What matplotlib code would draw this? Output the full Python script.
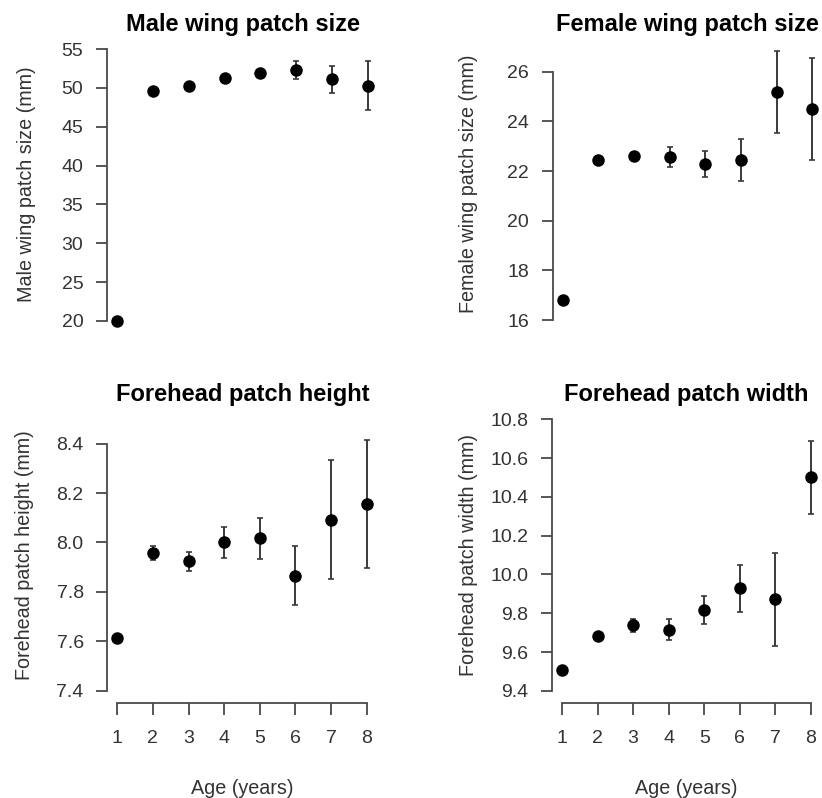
import numpy as np
import matplotlib.pyplot as plt

plt.rcParams["font.family"] = ["Liberation Sans", "DejaVu Sans"]

age = [1, 2, 3, 4, 5, 6, 7, 8]

male_wing = [20.0, 49.6, 50.2, 51.3, 51.9, 52.3, 51.1, 50.3]
male_wing_se = [0.2, 0.3, 0.3, 0.3, 0.4, 1.1, 1.7, 3.1]

female_wing = [16.8, 22.45, 22.62, 22.57, 22.28, 22.46, 25.2, 24.5]
female_wing_se = [0.05, 0.1, 0.15, 0.41, 0.52, 0.85, 1.65, 2.07]

fh_height = [7.613, 7.957, 7.923, 8.000, 8.016, 7.866, 8.092, 8.156]
fh_height_se = [0.01, 0.027, 0.039, 0.062, 0.084, 0.118, 0.24, 0.26]

fh_width = [9.508, 9.682, 9.737, 9.716, 9.818, 9.928, 9.873, 10.50]
fh_width_se = [0.01, 0.01, 0.035, 0.054, 0.073, 0.12, 0.24, 0.19]

W, H = 822, 798
fig = plt.figure(figsize=(W / 100, H / 100), dpi=100)


def px_axes(left, top, right, bottom):
    return fig.add_axes([left / W, 1 - bottom / H, (right - left) / W, (bottom - top) / H])


def px_text(x, y, s, **kw):
    fig.text(x / W, 1 - y / H, s, ha="center", va="center", **kw)


axis_col = "#4a4a4a"
text_col = "#333333"


def panel(ax, y, se, yticks, ylim, xaxis):
    ax.errorbar(age, y, yerr=se, fmt="o", color="black", ms=8,
                ecolor="#3a3a3a", elinewidth=1.4, capsize=2, capthick=1.2,
                zorder=3)
    ax.set_xlim(0.72, 8.28)
    ax.set_ylim(*ylim)
    for s in ["top", "right"]:
        ax.spines[s].set_visible(False)
    ax.spines["left"].set_bounds(yticks[0], yticks[-1])
    ax.spines["left"].set_color(axis_col)
    ax.spines["left"].set_linewidth(1.3)
    ax.set_yticks(yticks)
    ax.tick_params(axis="y", length=8, width=1.3, color=axis_col, pad=9,
                   labelsize=14, labelcolor=text_col)
    if xaxis:
        ax.spines["bottom"].set_bounds(1, 8)
        ax.spines["bottom"].set_color(axis_col)
        ax.spines["bottom"].set_linewidth(1.3)
        ax.set_xticks(age)
        ax.tick_params(axis="x", length=8.5, width=1.3, color=axis_col,
                       pad=11, labelsize=14, labelcolor=text_col)
    else:
        ax.spines["bottom"].set_visible(False)
        ax.set_xticks([])


ax1 = px_axes(107, 40, 378, 330)
panel(ax1, male_wing, male_wing_se, [20, 25, 30, 35, 40, 45, 50, 55],
      (18.84, 56.16), False)

ax2 = px_axes(552.7, 40, 822.2, 330)
panel(ax2, female_wing, female_wing_se, [16, 18, 20, 22, 24, 26],
      (15.6, 27.28), False)

ax3 = px_axes(107.3, 430, 376.6, 703)
panel(ax3, fh_height, fh_height_se, [7.4, 7.6, 7.8, 8.0, 8.2, 8.4],
      (7.350, 8.455), True)
ax3.set_yticklabels(["7.4", "7.6", "7.8", "8.0", "8.2", "8.4"])

ax4 = px_axes(552.0, 410, 821.0, 703)
panel(ax4, fh_width, fh_width_se, [9.4, 9.6, 9.8, 10.0, 10.2, 10.4, 10.6, 10.8],
      (9.337, 10.848), True)
ax4.set_yticklabels(["9.4", "9.6", "9.8", "10.0", "10.2", "10.4", "10.6", "10.8"])

# titles, axis labels
title_kw = dict(fontsize=17, fontweight="bold", color="black")
px_text(242.5, 25, "Male wing patch size", **title_kw)
px_text(687, 25, "Female wing patch size", **title_kw)
px_text(242.5, 395, "Forehead patch height", **title_kw)
px_text(686, 395, "Forehead patch width", **title_kw)

lab_kw = dict(fontsize=14.2, color=text_col, rotation=90)
px_text(27, 184, "Male wing patch size (mm)", **lab_kw)
px_text(468, 184, "Female wing patch size (mm)", **lab_kw)
px_text(25, 555, "Forehead patch height (mm)", **lab_kw)
px_text(468, 555, "Forehead patch width (mm)", **lab_kw)

px_text(242.5, 788, "Age (years)", fontsize=14.2, color=text_col)
px_text(686, 788, "Age (years)", fontsize=14.2, color=text_col)

fig.savefig("out.png", dpi=100)
